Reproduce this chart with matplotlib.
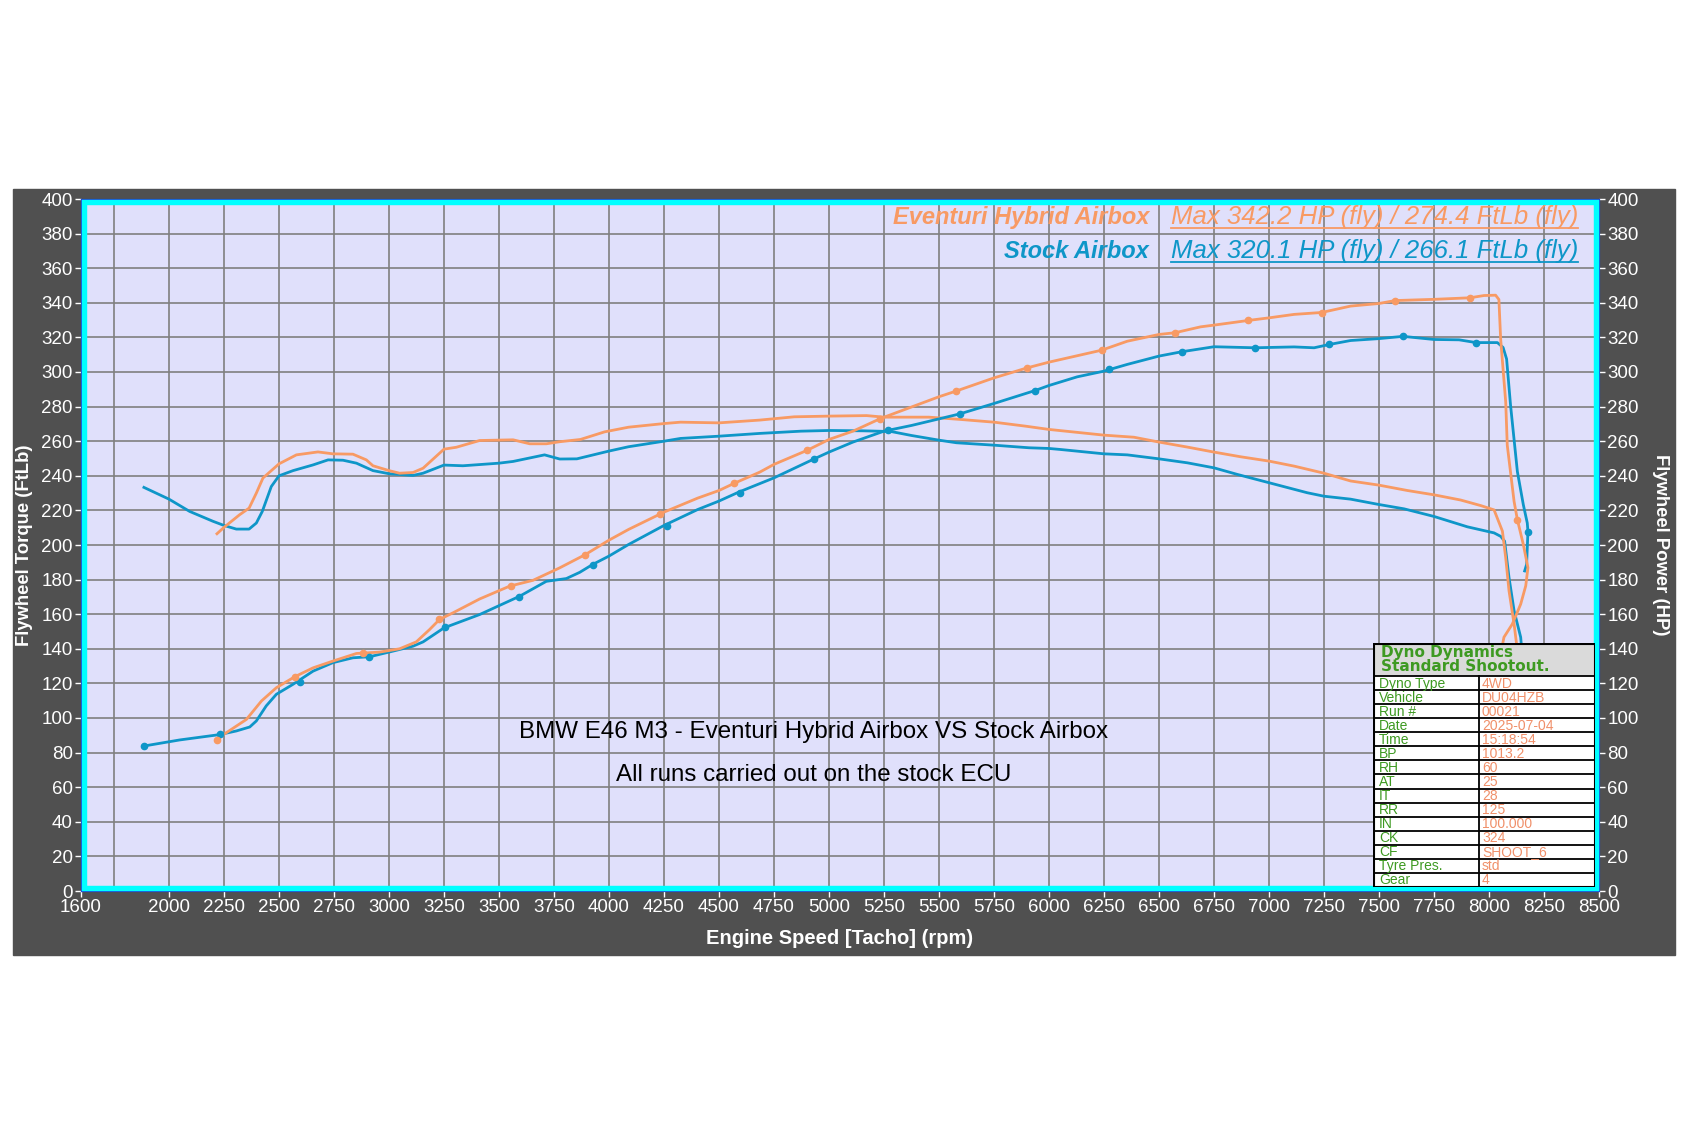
import numpy as np
import matplotlib
matplotlib.use("Agg")
import matplotlib.pyplot as plt
from matplotlib.patches import Rectangle
from matplotlib.lines import Line2D

plt.rcParams['font.family'] = ['Liberation Sans', 'DejaVu Sans']

W, H = 1687, 1125
ORANGE = '#F89A64'
BLUE = '#0E96C8'
GREEN = '#3E9A22'

# ---- data ----
stock_tq_rpm = [1886, 2000, 2094, 2200, 2250, 2306, 2364, 2397, 2424, 2465, 2500, 2564, 2655, 2723,
                2791, 2852, 2927, 3000, 3109, 3155, 3250, 3336, 3500, 3564, 3707, 3776, 3854, 4000,
                4089, 4250, 4325, 4500, 4685, 4873, 5000, 5156, 5282, 5375, 5500, 5579, 5750, 5909,
                6000, 6053, 6250, 6356, 6500, 6629, 6750, 6856, 7000, 7174, 7250, 7371, 7500, 7614,
                7750, 7902, 8023, 8053, 8071, 8091, 8114, 8144, 8152]
stock_tq = [233.3, 226.5, 219.4, 213.7, 211.3, 209.2, 209.2, 212.7, 219.4, 233.8, 240.0, 243.0, 246.3, 249.2,
            249.0, 247.3, 243.0, 241.2, 240.2, 241.5, 246.2, 245.8, 247.3, 248.3, 252.1, 249.7, 249.8, 254.3,
            256.8, 260.0, 261.6, 262.9, 264.5, 265.8, 266.2, 266.0, 265.6, 263.3, 260.6, 259.1, 257.7, 256.2,
            255.8, 255.2, 252.7, 252.1, 249.8, 247.5, 244.6, 240.8, 236.0, 230.2, 228.2, 226.5, 223.4, 220.9,
            216.5, 210.5, 207.0, 205.0, 202.2, 181.2, 162.0, 146.7, 135.0]

evt_tq_rpm = [2218, 2250, 2321, 2364, 2397, 2427, 2500, 2579, 2677, 2745, 2836, 2897, 2927, 3000, 3048,
              3109, 3155, 3250, 3306, 3412, 3564, 3640, 3715, 3776, 3870, 3980, 4089, 4250, 4325, 4500,
              4685, 4842, 5000, 5171, 5250, 5454, 5595, 5750, 5893, 6000, 6250, 6386, 6500, 6629, 6750,
              6871, 7000, 7114, 7250, 7371, 7500, 7629, 7750, 7871, 7962, 8023, 8061, 8076, 8091, 8114,
              8129, 8138]
evt_tq = [206.5, 210.2, 217.5, 221.3, 230.0, 238.7, 246.9, 252.1, 253.8, 252.7, 252.5, 249.2, 245.8, 243.0, 241.5,
          241.9, 244.4, 255.4, 256.5, 260.4, 260.8, 258.5, 258.5, 259.7, 261.0, 265.4, 268.1, 270.2, 271.0, 270.6,
          272.2, 274.1, 274.5, 274.8, 273.9, 273.9, 272.6, 271.0, 268.7, 266.8, 263.5, 262.3, 259.5, 256.6, 253.7,
          251.0, 248.5, 245.6, 241.5, 237.0, 234.6, 231.5, 229.0, 226.0, 222.8, 220.3, 208.0, 192.6, 173.5, 154.3,
          139.0, 128.0]

stock_hp_rpm = [1886, 2048, 2230, 2306, 2367, 2397, 2442, 2488, 2564, 2655, 2745, 2836, 2912, 3000, 3109,
                3155, 3250, 3412, 3594, 3715, 3806, 3867, 3925, 4000, 4089, 4250, 4403, 4500, 4590, 4750,
                4933, 5000, 5109, 5250, 5375, 5500, 5595, 5750, 5937, 6000, 6128, 6250, 6356, 6500, 6603,
                6750, 6936, 7114, 7205, 7274, 7371, 7500, 7609, 7750, 7864, 7941, 8038, 8064, 8080, 8098,
                8129, 8156, 8174, 8177, 8171, 8162]
stock_hp = [83.8, 87.3, 90.4, 92.5, 94.8, 98.3, 107.0, 113.7, 119.5, 127.1, 132.0, 134.8, 135.4, 138.1, 141.5,
            144.0, 152.1, 159.8, 170.4, 179.0, 180.6, 184.2, 188.7, 193.6, 200.3, 211.3, 220.5, 225.4, 230.6, 238.8,
            249.8, 253.7, 259.5, 265.8, 269.1, 272.9, 275.8, 281.8, 289.3, 292.2, 297.2, 300.5, 304.4, 309.2, 311.7,
            314.6, 314.0, 314.5, 314.0, 315.9, 318.2, 319.3, 320.6, 318.8, 318.6, 317.0, 317.0, 314.2, 307.5, 280.7,
            242.4, 223.3, 212.7, 207.9, 188.8, 185.0]

evt_hp_rpm = [2218, 2250, 2352, 2420, 2488, 2571, 2655, 2745, 2852, 2958, 3048, 3124, 3185, 3230, 3291,
              3412, 3548, 3655, 3776, 3893, 4000, 4089, 4250, 4403, 4500, 4568, 4685, 4750, 4902, 5000,
              5109, 5234, 5344, 5500, 5576, 5750, 5901, 6000, 6239, 6356, 6500, 6573, 6689, 6750, 6906,
              7000, 7114, 7239, 7371, 7500, 7573, 7750, 7914, 7977, 8030, 8045, 8053, 8076, 8083, 8114,
              8129, 8156, 8177, 8167, 8144, 8106, 8068, 8050]
evt_hp = [87.3, 90.6, 99.2, 109.8, 117.5, 123.8, 129.0, 132.9, 137.3, 138.1, 140.0, 144.0, 151.2, 157.0, 160.8,
          168.8, 176.2, 179.6, 186.8, 194.5, 202.8, 209.0, 219.0, 227.1, 231.5, 235.6, 242.1, 246.6, 254.8, 261.0,
          265.8, 273.1, 278.3, 285.7, 288.9, 296.6, 302.4, 305.7, 312.6, 317.8, 321.7, 322.7, 326.1, 327.1, 329.8,
          331.3, 333.3, 334.4, 338.1, 339.6, 341.3, 342.0, 342.9, 344.2, 344.4, 341.9, 319.0, 282.6, 257.7, 225.2,
          214.6, 200.3, 186.9, 176.4, 165.8, 154.3, 146.7, 135.0]

# sample dots drawn on the power traces
stock_mk_rpm = [1886, 2230, 2594, 2909, 3253, 3591, 3925, 4262, 4594, 4933, 5266, 5595, 5937, 6273,
                6603, 6936, 7274, 7609, 7939, 8177]
stock_mk = [83.8, 90.6, 120.8, 135.4, 152.5, 170.0, 188.7, 210.9, 230.2, 249.8, 266.2, 275.8, 289.3, 301.5,
            311.7, 314.0, 315.9, 320.7, 316.9, 207.6]
evt_mk_rpm = [2218, 2571, 2882, 3227, 3556, 3893, 4231, 4568, 4902, 5234, 5576, 5901, 6239, 6573,
              6906, 7239, 7573, 7914, 8129]
evt_mk = [87.3, 123.8, 137.3, 157.0, 176.5, 194.5, 217.7, 235.6, 254.8, 273.1, 288.9, 302.4, 312.6, 322.7,
          329.8, 334.2, 341.3, 342.9, 214.3]

x_ticks = [1600] + list(range(2000, 8501, 250))
y_ticks = list(range(0, 401, 20))

table_keys = ['Dyno Type', 'Vehicle', 'Run #', 'Date', 'Time', 'BP', 'RH', 'AT', 'IT', 'RR',
              'IN', 'CK', 'CF', 'Tyre Pres.', 'Gear']
table_vals = ['4WD', 'DU04HZB', '00021', '2025-07-04', '15:18:54', '1013.2', '60', '25', '28', '125',
              '100.000', '324', 'SHOOT_6', 'std', '4']


def fx(px):
    return px / W


def fy(py):
    return 1 - py / H


fig = plt.figure(figsize=(W / 100, H / 100), dpi=100, facecolor='white')

# dark panel behind the chart
fig.patches.append(Rectangle((fx(13), fy(955)), (1675 - 13) / W, (955 - 189) / H,
                             transform=fig.transFigure, color='#505050', zorder=-5))

ax_l, ax_r, ax_t, ax_b = 81, 1599, 199, 891
ax = fig.add_axes([fx(ax_l), fy(ax_b), (ax_r - ax_l) / W, (ax_b - ax_t) / H])
ax.set_facecolor('#E0E0FB')
ax.set_xlim(1600, 8500)
ax.set_ylim(0, 400)
ax.set_xticks(x_ticks)
ax.set_xticks([1750], minor=True)
ax.set_yticks(y_ticks)
ax.grid(True, which='both', color='#7F7F7F', lw=1.2)
ax.tick_params(axis='x', which='minor', length=0)
ax.tick_params(which='major', colors='white', labelsize=13.5, length=4, width=1, pad=2)
ax.set_axisbelow(True)

ax.plot(stock_tq_rpm, stock_tq, color=BLUE, lw=2)
ax.plot(evt_tq_rpm, evt_tq, color=ORANGE, lw=2)

ax.set_ylabel('Flywheel Torque (FtLb)', color='white', fontsize=13.3, fontweight='bold', labelpad=6)
ax.set_xlabel('Engine Speed [Tacho] (rpm)', color='white', fontsize=14.5, fontweight='bold', labelpad=9)

ax.text(4930, 92, 'BMW E46 M3 - Eventuri Hybrid Airbox VS Stock Airbox', fontsize=17.4,
        ha='center', va='center', color='black')
ax.text(4930, 67, 'All runs carried out on the stock ECU', fontsize=17.4,
        ha='center', va='center', color='black')

ax2 = ax.twinx()
ax2.set_ylim(0, 400)
ax2.set_yticks(y_ticks)
ax2.tick_params(colors='white', labelsize=13.5, length=4, width=1, pad=2)
ax2.plot(stock_hp_rpm, stock_hp, color=BLUE, lw=2)
ax2.plot(evt_hp_rpm, evt_hp, color=ORANGE, lw=2)
ax2.plot(stock_mk_rpm, stock_mk, 'o', color=BLUE, ms=4.5)
ax2.plot(evt_mk_rpm, evt_mk, 'o', color=ORANGE, ms=4.5)
ax2.set_ylabel('Flywheel Power (HP)', color='white', fontsize=13.3, fontweight='bold',
               rotation=270, labelpad=22)

for a in (ax, ax2):
    for s in a.spines.values():
        s.set_color('#2040D0')
        s.set_linewidth(0.8)

# cyan frame drawn just inside the plot edge
ins_x = 2.7 / (ax_r - ax_l)
ins_y = 2.7 / (ax_b - ax_t)
ax2.add_patch(Rectangle((ins_x, ins_y), 1 - 2 * ins_x, 1 - 2 * ins_y, transform=ax2.transAxes,
                        fill=False, ec='#00FFFF', lw=3.9, zorder=10, clip_on=False))

# legend block at the top
leg_rows = [('Eventuri Hybrid Airbox', 'Max 342.2 HP (fly) / 274.4 FtLb (fly)', ORANGE, 224),
            ('Stock Airbox', 'Max 320.1 HP (fly) / 266.1 FtLb (fly)', BLUE, 258)]
under = []
for name, maxs, col, base in leg_rows:
    fig.text(fx(1149), fy(base), name, color=col, fontsize=17, fontweight='bold', style='italic',
             ha='right', va='baseline')
    t = fig.text(fx(1171), fy(base), maxs, color=col, fontsize=18.5, style='italic',
                 ha='left', va='baseline')
    under.append((t, col, base))

# info table
tx0, tx1, ty0, ty1 = 1373, 1595, 643, 887
head_h = 33
tab = fig.add_axes([fx(tx0), fy(ty1), (tx1 - tx0) / W, (ty1 - ty0) / H])
tab.set_xlim(tx0, tx1)
tab.set_ylim(ty1, ty0)
tab.axis('off')
tab.add_patch(Rectangle((tx0, ty0), tx1 - tx0, ty1 - ty0, fc='white', ec='none'))
tab.add_patch(Rectangle((tx0, ty0), tx1 - tx0, head_h, fc='#DADADA', ec='none'))
tab.text(tx0 + 8, ty0 + head_h / 2, 'Dyno Dynamics\nStandard Shootout.', color=GREEN,
         fontsize=11, fontweight='bold', family='DejaVu Sans', ha='left', va='center', linespacing=0.9)
row_h = (ty1 - ty0 - head_h) / len(table_keys)
colx = 1479
for i, (k, v) in enumerate(zip(table_keys, table_vals)):
    y = ty0 + head_h + i * row_h
    tab.plot([tx0, tx1], [y, y], color='black', lw=1.3)
    tab.text(tx0 + 6, y + row_h / 2 + 0.5, k, color=GREEN, fontsize=10, ha='left', va='center')
    tab.text(colx + 3, y + row_h / 2 + 0.5, v, color='#F0906A', fontsize=10, ha='left', va='center')
tab.plot([colx, colx], [ty0 + head_h, ty1], color='black', lw=1.3)
tab.add_patch(Rectangle((tx0 + 0.5, ty0 + 0.5), tx1 - tx0 - 1, ty1 - ty0 - 1, fill=False,
                        ec='black', lw=1.5))

# underline the max figures
fig.canvas.draw()
r = fig.canvas.get_renderer()
for t, col, base in under:
    bb = t.get_window_extent(r)
    yy = fy(base + 4)
    fig.add_artist(Line2D([bb.x0 / W, bb.x1 / W], [yy, yy], transform=fig.transFigure,
                          color=col, lw=1.3))

fig.savefig('out.png', dpi=100, facecolor='white')
